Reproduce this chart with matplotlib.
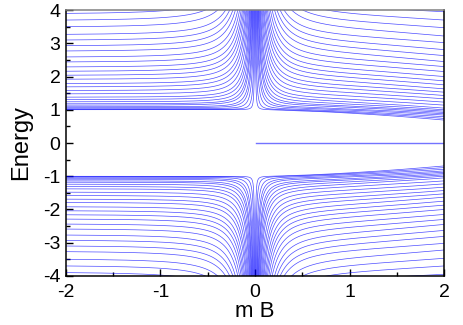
import numpy as np
import matplotlib
matplotlib.use("Agg")
import matplotlib.pyplot as plt
from matplotlib.ticker import MultipleLocator

# level energies at mB = -2 (upper branch, bottom to top)
left_edge_energy = [1.002, 1.01, 1.03, 1.06, 1.09, 1.14, 1.18, 1.24, 1.31, 1.38,
                    1.48, 1.58, 1.69, 1.79, 1.92, 2.04, 2.16, 2.29, 2.44, 2.59,
                    2.77, 2.93, 3.10, 3.27, 3.50, 3.70, 3.90, 4.10]
# same levels read at mB = +2 (they sink a bit, the lowest ones below 1)
right_edge_energy = [0.69, 0.74, 0.79, 0.84, 0.88, 0.92, 0.96, 1.00, 1.05, 1.14,
                     1.23, 1.33, 1.43, 1.53, 1.63, 1.75, 1.87, 2.00, 2.15, 2.30,
                     2.45, 2.63, 2.81, 3.02, 3.22, 3.47, 3.70, 3.95]
# the flat zero mode on the positive side
zero_mode_x = [0.01, 2.0]
zero_mode_e = [0.0, 0.0]

x_ticks = [-2, -1, 0, 1, 2]
y_ticks = [-4, -3, -2, -1, 0, 1, 2, 3, 4]

C_FIELD = 0.055     # how fast the levels blow up near mB = 0
SINK_POWER = 1.6    # shape of the sinking on the mB > 0 side


def level_curve(e_edge, x):
    # E^2 = 1 + p^2 (1 + c / x^2), with p fixed by the value at |mB| = 2
    p2 = (e_edge ** 2 - 1) / (1 + C_FIELD / 4)
    return np.sqrt(1 + p2 * (1 + C_FIELD / x ** 2))


def main():
    plt.rcParams['font.family'] = ['Liberation Sans', 'DejaVu Sans']
    plt.rcParams['axes.unicode_minus'] = False

    fig = plt.figure(figsize=(4.63, 3.25), dpi=100)
    ax = fig.add_axes([0.1425, 0.151, 0.8165, 0.818])

    x_left = -np.geomspace(2.0, 1e-4, 800)
    x_right = np.geomspace(1e-4, 2.0, 800)

    blue = (0.0, 0.0, 1.0)
    for e_l, e_r in zip(left_edge_energy, right_edge_energy):
        e_left = level_curve(e_l, x_left)
        e_right = level_curve(e_l, x_right) - (e_l - e_r) * (x_right / 2) ** SINK_POWER
        for sign in (1, -1):
            ax.plot(x_left, sign * e_left, color=blue, lw=0.5, alpha=0.7)
            ax.plot(x_right, sign * e_right, color=blue, lw=0.5, alpha=0.7)

    ax.plot(zero_mode_x, zero_mode_e, color=(0.45, 0.45, 1.0), lw=1.0)

    ax.set_xlim(-2, 2)
    ax.set_ylim(-4, 4)
    ax.set_xticks(x_ticks)
    ax.set_yticks(y_ticks)
    ax.xaxis.set_minor_locator(MultipleLocator(0.5))
    ax.yaxis.set_minor_locator(MultipleLocator(0.5))
    ax.tick_params(which='both', direction='in', top=False, right=False,
                   labelsize=14, width=1.0)
    ax.tick_params(axis='x', which='major', pad=6)
    ax.tick_params(axis='y', which='major', pad=4)
    ax.tick_params(which='major', length=5)
    ax.tick_params(which='minor', length=3)
    for s in ax.spines.values():
        s.set_linewidth(1.1)
    ax.spines['top'].set_color('#808080')

    ax.set_xlabel("m B", fontsize=16, labelpad=0)
    ax.set_ylabel("Energy", fontsize=17, labelpad=8)

    fig.savefig("out.png", dpi=100)


if __name__ == "__main__":
    main()
